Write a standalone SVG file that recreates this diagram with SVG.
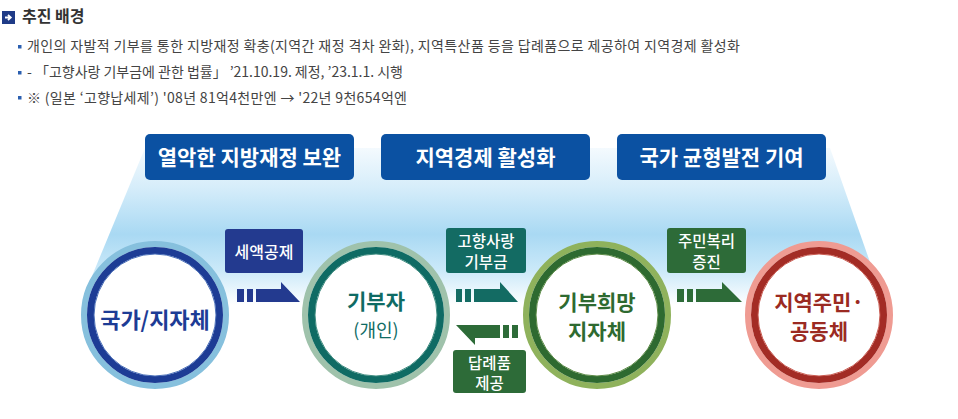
<svg xmlns="http://www.w3.org/2000/svg" width="958" height="419" viewBox="0 0 958 419">
<defs>
<linearGradient id="bg" x1="0" y1="148" x2="0" y2="305" gradientUnits="userSpaceOnUse">
<stop offset="0" stop-color="#f4fafe"/>
<stop offset="0.25" stop-color="#d6edfa"/>
<stop offset="0.55" stop-color="#a9d9f3"/>
<stop offset="0.78" stop-color="#cbe9f9"/>
<stop offset="1" stop-color="#ffffff"/>
</linearGradient>
<style>
.f{font-family:"Noto Sans CJK KR","Liberation Sans",sans-serif}
.hd{font-size:16px;font-weight:bold;fill:#333}
.bl{font-size:14px;fill:#444}
.bs{fill:#2b5fb0}
.top{fill:#0b51a2}
.tt{font-size:21px;font-weight:bold;fill:#fff;text-anchor:middle}
.lb{font-size:16px;font-weight:500;fill:#fff;text-anchor:middle}
.lb2{font-size:15.5px;font-weight:500;fill:#fff;text-anchor:middle}
.ct{font-size:22px;font-weight:bold;text-anchor:middle}
.ct2{font-size:21px;font-weight:bold;text-anchor:middle}
</style>
</defs>
<rect width="958" height="419" fill="#fff"/>

<g id="header">
<rect x="2" y="11" width="13" height="13" fill="#1f3b87"/>
<path d="M5 17.5h5M8 14.8l2.8 2.7-2.8 2.7" stroke="#fff" stroke-width="1.8" fill="none"/>
<text class="f hd" x="22" y="22">추진 배경</text>
<rect class="bs" x="18" y="45" width="3.5" height="3.5"/>
<text class="f bl" x="27" y="51" textLength="713" lengthAdjust="spacing">개인의 자발적 기부를 통한 지방재정 확충(지역간 재정 격차 완화), 지역특산품 등을 답례품으로 제공하여 지역경제 활성화</text>
<rect class="bs" x="18" y="71" width="3.5" height="3.5"/>
<text class="f bl" x="27" y="77" textLength="376" lengthAdjust="spacing">- 「고향사랑 기부금에 관한 법률」 ’21.10.19. 제정, ’23.1.1. 시행</text>
<rect class="bs" x="18" y="96" width="3.5" height="3.5"/>
<text class="f bl" x="27" y="103" textLength="380" lengthAdjust="spacing">※ (일본 ‘고향납세제’) '08년 81억4천만엔 → '22년 9천654억엔</text>
</g>

<polygon points="145,148 830,148 885,305 80,305" fill="url(#bg)"/>

<g id="goal1"><rect class="top" x="145" y="134" width="209" height="46" rx="5"/><text class="f tt" x="249.5" y="165">열악한 지방재정 보완</text></g>
<g id="goal2"><rect class="top" x="381" y="134" width="209" height="46" rx="5"/><text class="f tt" x="485.5" y="165">지역경제 활성화</text></g>
<g id="goal3"><rect class="top" x="617" y="134" width="209" height="46" rx="5"/><text class="f tt" x="721.5" y="165">국가 균형발전 기여</text></g>

<g id="connectors">
<g fill="#233a8f">
<rect x="237" y="289" width="7" height="13"/><rect x="247" y="289" width="6" height="13"/>
<polygon points="256,289 281,289 281,282 300,302 256,302"/>
</g>
<g fill="#136b63">
<rect x="456" y="289" width="6" height="13"/><rect x="465" y="289" width="6" height="13"/>
<polygon points="474,289 500,289 500,282 518,302 474,302"/>
</g>
<g fill="#2d6b38">
<rect x="512" y="325" width="6" height="13"/><rect x="503" y="325" width="6" height="13"/>
<polygon points="500,325 500,338 475,338 475,345 456,325"/>
</g>
<g fill="#2d6b38">
<rect x="677" y="289" width="7" height="13"/><rect x="687" y="289" width="6" height="13"/>
<polygon points="696,289 722,289 722,282 742,302 696,302"/>
</g>
</g>

<g id="lbl-tax"><rect x="225" y="229" width="78" height="44" rx="3" fill="#233a8f"/><text class="f lb" x="264" y="258">세액공제</text></g>
<g id="lbl-donation"><rect x="446" y="228" width="80" height="45" rx="3" fill="#136b63"/><text class="f lb2" x="486" y="247"><tspan x="486">고향사랑</tspan><tspan x="486" dy="20.5">기부금</tspan></text></g>
<g id="lbl-gift"><rect x="453" y="350" width="73" height="43" rx="3" fill="#2d6b38"/><text class="f lb2" x="489.5" y="368.5"><tspan x="489.5">답례품</tspan><tspan x="489.5" dy="20.5">제공</tspan></text></g>
<g id="lbl-welfare"><rect x="667" y="228" width="79" height="45" rx="3" fill="#2d6b38"/><text class="f lb2" x="706.5" y="247"><tspan x="706.5">주민복리</tspan><tspan x="706.5" dy="20.5">증진</tspan></text></g>

<g id="n-state">
<circle cx="155" cy="315" r="71" fill="#fff" stroke="#86c0dd" stroke-width="6"/>
<circle cx="155" cy="315" r="64.5" fill="#fff" stroke="#1d3c95" stroke-width="7"/>
<circle cx="155" cy="315" r="61" fill="none" stroke="#4a6fb8" stroke-width="1"/>
<text class="f ct" x="155" y="328" fill="#1d3c95">국가/지자체</text>
</g>
<g id="n-donor">
<circle cx="376" cy="315" r="71" fill="#fff" stroke="#9fc2ab" stroke-width="6"/>
<circle cx="376" cy="315" r="64.5" fill="#fff" stroke="#0f6b64" stroke-width="7"/>
<circle cx="376" cy="315" r="61" fill="none" stroke="#3f8c80" stroke-width="1"/>
<text class="f ct2" x="376" y="309" fill="#0f6b64">기부자</text>
<text class="f" x="376" y="337" font-size="18" text-anchor="middle" fill="#0f6b64">(개인)</text>
</g>
<g id="n-local">
<circle cx="597" cy="315" r="71" fill="#fff" stroke="#8fb25c" stroke-width="6"/>
<circle cx="597" cy="315" r="64.5" fill="#fff" stroke="#2e6a30" stroke-width="7"/>
<circle cx="597" cy="315" r="61" fill="none" stroke="#5a8a45" stroke-width="1"/>
<text class="f ct2" x="597" y="310" fill="#2e6a30"><tspan x="597">기부희망</tspan><tspan x="597" dy="28.5">지자체</tspan></text>
</g>
<g id="n-resident">
<circle cx="819" cy="315" r="71" fill="#fff" stroke="#ef9b92" stroke-width="6"/>
<circle cx="819" cy="315" r="64.5" fill="#fff" stroke="#a32c25" stroke-width="7"/>
<circle cx="819" cy="315" r="61" fill="none" stroke="#c85a50" stroke-width="1"/>
<text class="f ct2" x="819" y="310" fill="#9b2a22"><tspan x="819">지역주민·</tspan><tspan x="819" dy="28.5">공동체</tspan></text>
</g>
</svg>
